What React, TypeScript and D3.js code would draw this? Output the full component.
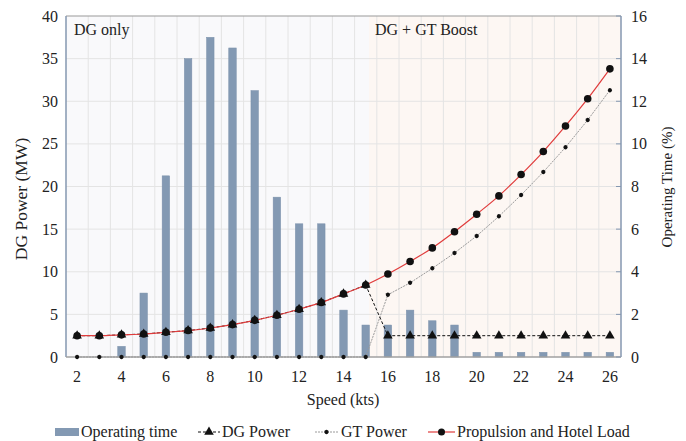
import React from "react";
import * as d3 from "d3";

const speeds = [2,3,4,5,6,7,8,9,10,11,12,13,14,15,16,17,18,19,20,21,22,23,24,25,26];
const operatingTime = [0,0,0.5,3.0,8.5,14.0,15.0,14.5,12.5,7.5,6.25,6.25,2.2,1.5,1.5,2.2,1.7,1.5,0.22,0.22,0.22,0.22,0.22,0.22,0.22];
const loadPower = [2.5,2.5,2.6,2.7,2.9,3.1,3.4,3.8,4.3,4.9,5.6,6.4,7.4,8.45,9.74,11.2,12.8,14.7,16.75,18.9,21.4,24.1,27.1,30.3,33.8];
const dgPower = [2.5,2.5,2.6,2.7,2.9,3.1,3.4,3.8,4.3,4.9,5.6,6.4,7.4,8.45,2.5,2.5,2.5,2.5,2.5,2.5,2.5,2.5,2.5,2.5,2.5];
const gtPower = [0,0,0,0,0,0,0,0,0,0,0,0,0,0,7.3,8.7,10.4,12.2,14.2,16.5,19.0,21.7,24.6,27.8,31.3];
const leftTicks = [0,5,10,15,20,25,30,35,40];
const rightTicks = [0,2,4,6,8,10,12,14,16];
const xTickLabels = [2,4,6,8,10,12,14,16,18,20,22,24,26];

const W = 686, H = 441;
const M = { left: 66, right: 621, top: 16, bottom: 357 };
const FONT = "'Liberation Serif', 'Times New Roman', serif";

export default function App() {
  const x = d3.scaleBand<number>().domain(speeds).range([M.left, M.right]).padding(0);
  const cx = (s: number) => (x(s) as number) + x.bandwidth() / 2;
  const yL = d3.scaleLinear().domain([0, 40]).range([M.bottom, M.top]);
  const yR = d3.scaleLinear().domain([0, 16]).range([M.bottom, M.top]);

  const lineGen = d3.line<number>().x((_, i) => cx(speeds[i])).y(v => yL(v));
  const smooth = d3.line<number>().x((_, i) => cx(speeds[i])).y(v => yL(v)).curve(d3.curveMonotoneX);

  const splitX = cx(15) + x.bandwidth() * 0.15;
  const barW = 7.5;

  const tri = d3.symbol().type(d3.symbolTriangle).size(40)() as string;
  const dia = d3.symbol().type(d3.symbolCircle).size(14)() as string;

  return (
    <svg width={W} height={H} style={{ position: "absolute", left: 0, top: 0 }} fontFamily={FONT}>
      <rect x={0} y={0} width={W} height={H} fill="#fff" />
      <rect x={M.left} y={M.top} width={splitX - M.left} height={M.bottom - M.top} fill="#f9f9fb" />
      <rect x={splitX} y={M.top} width={M.right - splitX} height={M.bottom - M.top} fill="#fdf7f3" />
      {/* grid */}
      {speeds.slice(1).map(s => (
        <line key={"vg" + s} x1={x(s)} x2={x(s)} y1={M.top} y2={M.bottom} stroke="#e4e4e4" strokeWidth={1} />
      ))}
      {leftTicks.slice(1, -1).map(t => (
        <line key={"hg" + t} x1={M.left} x2={M.right} y1={yL(t)} y2={yL(t)} stroke="#e4e4e4" strokeWidth={1} />
      ))}
      {/* bars */}
      {speeds.map((s, i) => (
        <rect key={"b" + s} x={cx(s) - barW / 2} y={yR(operatingTime[i])} width={barW}
          height={M.bottom - yR(operatingTime[i])} fill="#8399b3" stroke="#7a90aa" strokeWidth={0.5} />
      ))}
      {/* frame */}
      <line x1={M.left} x2={M.right} y1={M.top} y2={M.top} stroke="#999" strokeWidth={1.2} />
      <line x1={M.left} x2={M.left} y1={M.top} y2={M.bottom} stroke="#8497b0" strokeWidth={1.5} />
      <line x1={M.right} x2={M.right} y1={M.top} y2={M.bottom} stroke="#8497b0" strokeWidth={1.5} />
      <line x1={M.left} x2={M.right} y1={M.bottom} y2={M.bottom} stroke="#a0a0a0" strokeWidth={1.5} />
      {rightTicks.map(t => (
        <line key={"rt" + t} x1={M.right - 5} x2={M.right} y1={yR(t)} y2={yR(t)} stroke="#8497b0" strokeWidth={1} />
      ))}
      {/* GT power */}
      <path d={lineGen(gtPower) as string} fill="none" stroke="#9a9a9a" strokeWidth={1} strokeDasharray="2,1" />
      {/* DG power */}
      <path d={lineGen(dgPower) as string} fill="none" stroke="#111" strokeWidth={1} strokeDasharray="3,2" />
      {/* Load */}
      <path d={smooth(loadPower) as string} fill="none" stroke="#e03c3c" strokeWidth={1.2} />
      {speeds.map((s, i) => (
        <path key={"gt" + s} d={dia} transform={`translate(${cx(s)},${yL(gtPower[i])}) rotate(45)`} fill="#111" />
      ))}
      {speeds.map((s, i) => (
        <path key={"dg" + s} d={tri} transform={`translate(${cx(s)},${yL(dgPower[i])})`} fill="#111" />
      ))}
      {speeds.map((s, i) => (
        <circle key={"ld" + s} cx={cx(s)} cy={yL(loadPower[i])} r={3.8} fill="#111" />
      ))}
      {/* tick labels */}
      {leftTicks.map(t => (
        <text key={"lt" + t} x={58} y={yL(t)} dy="0.35em" textAnchor="end" fontSize={16} fill="#222">{t}</text>
      ))}
      {rightTicks.map(t => (
        <text key={"rl" + t} x={631} y={yR(t)} dy="0.35em" textAnchor="start" fontSize={16} fill="#222">{t}</text>
      ))}
      {xTickLabels.map(t => (
        <text key={"xl" + t} x={cx(t)} y={382} textAnchor="middle" fontSize={16} fill="#222">{t}</text>
      ))}
      {/* axis titles */}
      <text x={343} y={405} textAnchor="middle" fontSize={16} fill="#222">Speed (kts)</text>
      <text transform={`translate(27,199) rotate(-90)`} textAnchor="middle" fontSize={17.5} fill="#222">DG Power (MW)</text>
      <text transform={`translate(672,187) rotate(-90)`} textAnchor="middle" fontSize={15} fill="#222">Operating Time (%)</text>
      {/* annotations */}
      <text x={74} y={35} fontSize={16} fill="#222">DG only</text>
      <text x={375} y={35} fontSize={16} fill="#222">DG + GT Boost</text>
      {/* legend */}
      <g fontSize={16} fill="#222">
        <rect x={55} y={428} width={24} height={8} fill="#8399b3" />
        <text x={81} y={437}>Operating time</text>
        <line x1={198} x2={220} y1={432} y2={432} stroke="#111" strokeDasharray="3,2" />
        <path d={tri} transform="translate(209,432)" fill="#111" />
        <text x={222} y={437}>DG Power</text>
        <line x1={315} x2={338} y1={432} y2={432} stroke="#9a9a9a" strokeDasharray="2,1" />
        <path d={dia} transform="translate(326.5,432) rotate(45)" fill="#111" />
        <text x={341} y={437}>GT Power</text>
        <line x1={428} x2={455} y1={432} y2={432} stroke="#e03c3c" strokeWidth={1.2} />
        <circle cx={441.5} cy={432} r={3.5} fill="#111" />
        <text x={457} y={437}>Propulsion and Hotel Load</text>
      </g>
    </svg>
  );
}
